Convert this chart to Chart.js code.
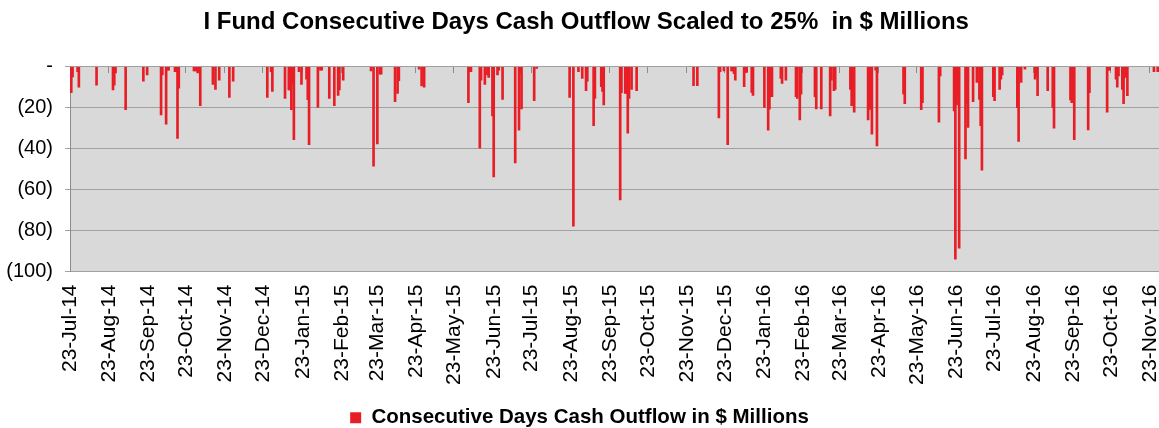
<!DOCTYPE html>
<html>
<head>
<meta charset="utf-8">
<script src="https://cdn.jsdelivr.net/npm/chart.js@4/dist/chart.umd.min.js"></script>
<style>
  html, body { margin: 0; padding: 0; background: #fff; }
</style>
</head>
<body>
<canvas id="chart" width="1159" height="428"></canvas>
<script>
// first day on the axis is 23-Jul-14, one category per calendar day
const startYear = 2014, startMonth = 6, startDay = 23;
const dayCount = 862;
const monthNames = ['Jan', 'Feb', 'Mar', 'Apr', 'May', 'Jun', 'Jul', 'Aug', 'Sep', 'Oct', 'Nov', 'Dec'];
const tickDayOfMonth = 23;

// days after 23-Jul-14 that had an outflow, and the outflow ($ millions)
const outflowDay = [
  1, 2, 6, 7, 21, 34, 35, 36, 44, 58, 61, 72, 73, 76, 77, 78, 83, 84, 85, 86,
  98, 99, 100, 101, 103, 113, 115, 118, 126, 129, 156, 159, 160, 170, 173, 174, 175, 176, 177, 181,
  183, 187, 188, 189, 196, 198, 199, 205, 209, 212, 213, 216, 238, 240, 243, 245, 246, 257, 259, 260,
  276, 278, 280, 315, 316, 317, 324, 325, 328, 330, 331, 334, 335, 338, 339, 342, 352, 355, 356, 357,
  367, 369, 395, 398, 402, 405, 408, 409, 414, 415, 420, 421, 422, 435, 436, 439, 440, 441, 442, 444,
  448, 493, 496, 513, 514, 517, 520, 523, 524, 525, 526, 533, 534, 535, 539, 540, 549, 552, 553, 554,
  555, 562, 563, 566, 574, 575, 577, 578, 589, 590, 594, 601, 602, 604, 605, 617, 618, 619, 620, 631,
  632, 633, 634, 637, 638, 659, 660, 673, 674, 687, 688, 699, 700, 701, 702, 703, 708, 709, 710, 714,
  717, 719, 720, 721, 730, 731, 735, 736, 737, 749, 750, 751, 752, 755, 763, 764, 765, 773, 777, 778,
  791, 792, 793, 794, 805, 806, 820, 821, 822, 827, 828, 829, 832, 833, 834, 835, 836, 857, 860
];
const outflowValue = [
  -12.6, -4.9, -2.4, -10, -9, -11.3, -9, -3, -21, -7, -4, -23.5, -4, -28, -1.6, -1.6, -2.4, -2.4, -35, -10.5,
  -2, -2, -2, -3, -19, -8.6, -11, -6.5, -15, -7, -15, -2.4, -12, -15.5, -11.3, -11.3, -21, -8.6, -35.6, -2.4,
  -8.6, -6, -16, -38, -19.8, -1.6, -1.6, -15.5, -19, -14, -11.3, -6.5, -2, -48.6, -37.7, -3.6, -3.6, -17, -13, -6.8,
  -1.1, -9.4, -10, -17.5, -2.4, -2.4, -39.7, -6.5, -8.6, -4, -5.2, -24, -53.8, -4, -1.6, -15.9, -47, -31, -3, -20.6,
  -16.5, -0.8, -15, -77.8, -2.4, -5.7, -11.7, -7, -28.7, -15.4, -9.7, -12, -18.6, -65, -12.6, -13, -13, -32.4, -15.4, -11,
  -11.7, -9.2, -9.2, -25, -2.4, -2, -38, -2, -2, -3.3, -6.5, -9.7, -2.8, -2.8, -12.5, -14, -19.8, -31, -20.7, -14.6,
  -14.6, -5.7, -8.1, -6.5, -14.6, -15.4, -26, -13.4, -14.6, -20.6, -20.6, -24, -6.5, -11.7, -11, -11, -19, -12.6, -22.2, -26,
  -20.7, -20.7, -32.9, -1.6, -38.6, -13.3, -18, -21, -17.5, -27, -4.4, -21.5, -94, -18.6, -15, -88.6, -45, -17.8, -29.6, -17,
  -7.6, -15.9, -28.7, -50.5, -14.6, -16.5, -11, -6, -4, -20, -36.5, -3.6, -7.6, -1.1, -6, -4.4, -14.1, -11.7, -20, -30,
  -16.2, -17.5, -7, -35.6, -30.8, -12.6, -22.2, -1.6, -1.6, -6, -10, -4.4, -11, -18, -5.2, -5, -14.1, -2.4, -2.4
];

const yTicks = [0, -20, -40, -60, -80, -100];

// build daily labels and series from the arrays above
const dayLabels = [];
const dayOfMonth = [];
for (let i = 0; i < dayCount; i++) {
  const d = new Date(Date.UTC(startYear, startMonth, startDay + i));
  dayOfMonth.push(d.getUTCDate());
  dayLabels.push(d.getUTCDate() + '-' + monthNames[d.getUTCMonth()] + '-' + String(d.getUTCFullYear()).slice(2));
}
const dailyOutflow = new Array(dayCount).fill(null);
outflowDay.forEach((day, i) => { dailyOutflow[day] = outflowValue[i]; });

const plotBackground = {
  id: 'plotBackground',
  beforeDraw(chart) {
    const { ctx, chartArea } = chart;
    ctx.save();
    ctx.fillStyle = '#d9d9d9';
    ctx.fillRect(chartArea.left, chartArea.top, chartArea.right - chartArea.left, chartArea.bottom - chartArea.top);
    ctx.restore();
  }
};

Chart.defaults.font.family = '"Liberation Sans", Arial, sans-serif';
Chart.defaults.color = '#000';

new Chart(document.getElementById('chart').getContext('2d'), {
  type: 'bar',
  data: {
    labels: dayLabels,
    datasets: [{
      label: 'Consecutive Days Cash Outflow in $ Millions',
      data: dailyOutflow,
      backgroundColor: '#e81e26',
      borderWidth: 0,
      barThickness: 2,
      grouped: false
    }]
  },
  options: {
    responsive: false,
    animation: false,
    devicePixelRatio: 1,
    layout: { padding: { left: 0, right: 0, top: 0, bottom: -10 } },
    plugins: {
      title: {
        display: true,
        text: '  I Fund Consecutive Days Cash Outflow Scaled to 25%  in $ Millions',
        font: { size: 24, weight: 'bold' },
        color: '#000',
        padding: { top: 8, bottom: 30 }
      },
      legend: {
        position: 'bottom',
        labels: {
          boxWidth: 11,
          boxHeight: 11,
          padding: 0,
          font: { size: 20.5, weight: 'bold', lineHeight: 1 },
          color: '#000'
        }
      },
      tooltip: { enabled: false }
    },
    scales: {
      x: {
        type: 'category',
        offset: false,
        grid: { display: false },
        border: { display: false },
        ticks: {
          autoSkip: false,
          minRotation: 90,
          maxRotation: 90,
          padding: 5,
          font: { size: 21 },
          color: '#000',
          callback: function (value) {
            return dayOfMonth[value] === tickDayOfMonth ? dayLabels[value] : '';
          }
        },
        afterFit: function (scale) {
          scale.height = 136;
          scale.paddingLeft = 0;
          scale.paddingRight = 0;
        }
      },
      xMarks: {
        type: 'category',
        position: { y: 0 },
        offset: false,
        border: { display: false },
        ticks: { display: false },
        grid: {
          drawOnChartArea: false,
          drawTicks: true,
          tickLength: 6,
          color: ctx => dayOfMonth[ctx.index] === tickDayOfMonth ? '#8c8c8c' : 'rgba(0,0,0,0)'
        },
        afterFit: function (scale) { scale.height = 0; }
      },
      y: {
        min: -100,
        max: 0,
        afterBuildTicks: function (scale) { scale.ticks = yTicks.map(v => ({ value: v })); },
        ticks: {
          padding: 12,
          font: { size: 20 },
          color: '#000',
          callback: v => v === 0 ? '-' : '(' + Math.abs(v) + ')'
        },
        grid: { color: '#a0a0a0', tickLength: 5 },
        border: { color: '#8c8c8c' },
        afterFit: function (scale) { scale.width = 70; }
      }
    }
  },
  plugins: [plotBackground]
});
</script>
</body>
</html>
